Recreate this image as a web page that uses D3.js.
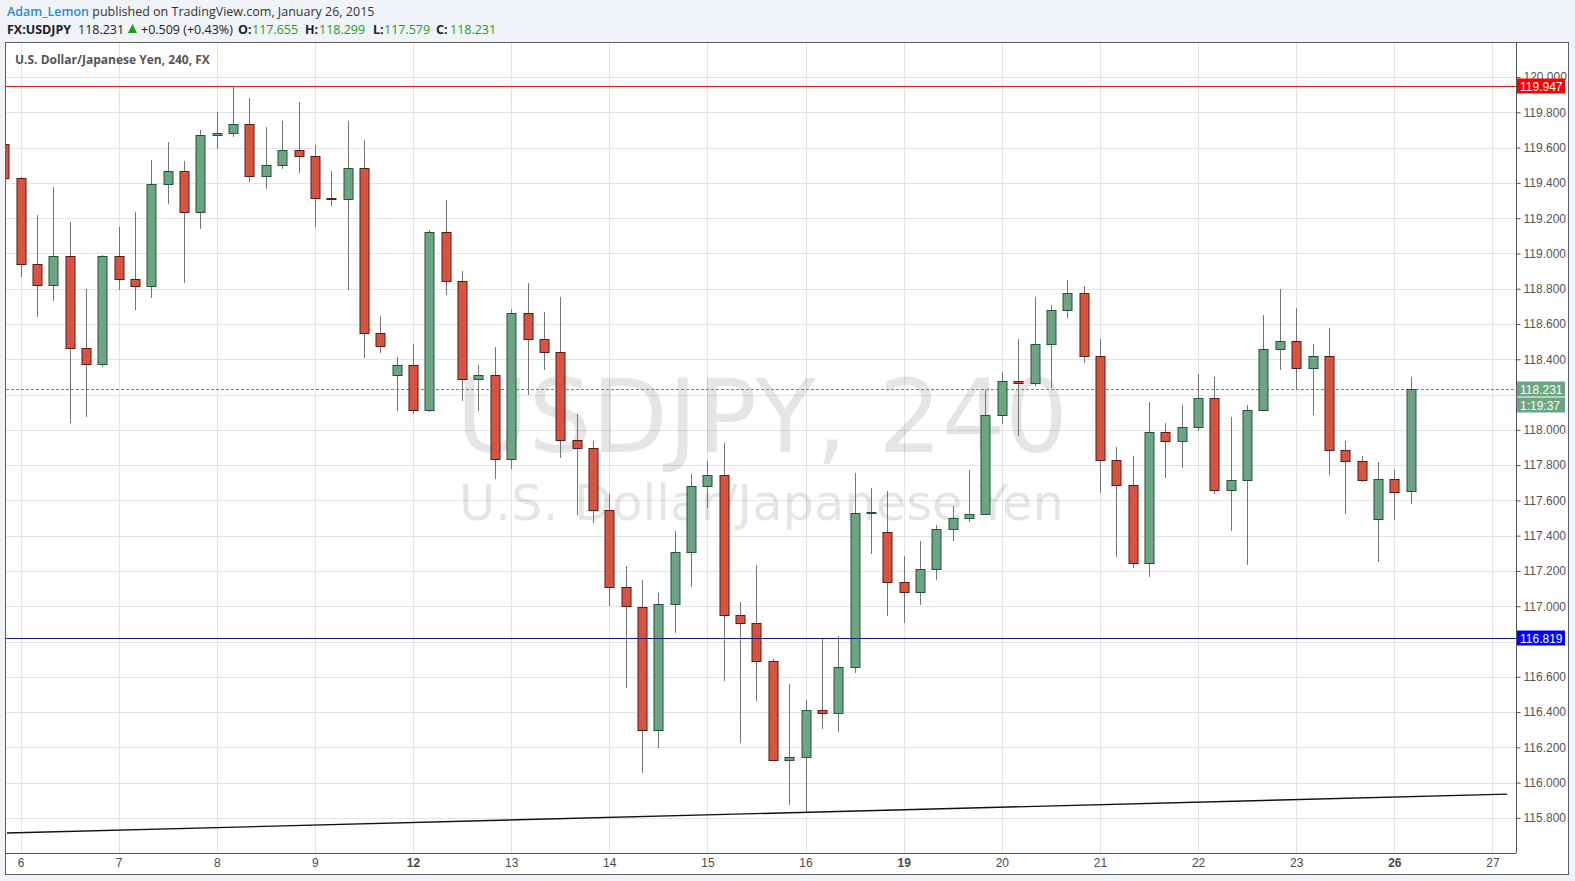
<!DOCTYPE html>
<html><head><meta charset="utf-8">
<script src="https://cdn.jsdelivr.net/npm/d3@7"></script>
<style>
html,body{margin:0;padding:0;background:#f0f3f7;}
svg{display:block;}
</style></head><body>
<script>
// ---------- data (4h bars, first bar index = -1) ----------
const firstBar = -1;
const opens = [119.620,119.425,118.942,118.820,118.984,118.463,118.373,118.984,118.854,118.814,119.391,119.470,119.233,119.674,119.685,119.736,119.437,119.504,119.589,119.555,119.312,119.307,119.487,118.548,118.311,118.368,118.113,119.121,118.842,118.289,118.311,117.834,118.662,118.515,118.442,117.943,117.898,117.547,117.109,116.996,116.301,117.015,117.309,117.683,117.745,116.952,116.907,116.692,116.131,116.146,116.414,116.395,116.658,117.530,117.422,117.139,117.083,117.213,117.439,117.502,117.524,118.085,118.277,118.266,118.487,118.679,118.776,118.419,117.830,117.688,117.247,117.988,117.938,118.017,118.181,117.660,117.717,118.113,118.458,118.504,118.351,118.419,117.887,117.824,117.496,117.722,117.655];
const highs = [119.630,119.435,119.218,119.376,119.178,118.799,118.991,119.150,119.235,119.529,119.631,119.523,119.699,119.800,119.946,119.880,119.716,119.750,119.857,119.614,119.470,119.750,119.642,118.646,118.415,118.489,119.132,119.304,118.902,118.370,118.472,118.685,118.834,118.670,118.755,118.087,117.939,117.634,117.229,117.150,117.077,117.424,117.747,117.821,117.926,117.022,117.232,116.703,116.558,116.467,116.816,116.830,117.754,117.668,117.651,117.283,117.368,117.458,117.571,117.770,118.228,118.330,118.517,118.755,118.710,118.851,118.817,118.517,117.900,117.854,118.160,118.036,118.143,118.317,118.302,118.075,118.141,118.653,118.800,118.693,118.489,118.579,117.934,117.849,117.815,117.775,118.299];
const lows = [119.410,118.869,118.637,118.733,118.037,118.071,118.354,118.790,118.682,118.750,119.282,118.835,119.140,119.593,119.661,119.406,119.367,119.480,119.457,119.152,119.271,118.790,118.405,118.433,118.109,118.090,118.100,118.762,118.166,118.109,117.720,117.777,118.200,118.338,117.839,117.520,117.471,117.000,116.535,116.056,116.197,116.848,117.109,117.556,116.577,116.226,116.463,116.128,115.873,115.829,116.305,116.288,116.622,117.296,116.945,116.905,117.007,117.149,117.369,117.477,117.520,118.032,117.964,118.247,118.236,118.632,118.377,117.641,117.279,117.216,117.166,117.726,117.783,117.992,117.636,117.426,117.233,118.105,118.338,118.226,118.083,117.743,117.522,117.703,117.250,117.488,117.579];
const closes = [119.425,118.942,118.820,118.984,118.463,118.373,118.984,118.854,118.814,119.391,119.470,119.233,119.674,119.685,119.736,119.437,119.504,119.589,119.555,119.312,119.307,119.487,118.548,118.475,118.368,118.113,119.121,118.842,118.289,118.311,117.834,118.662,118.515,118.442,117.943,117.898,117.547,117.109,117.000,116.301,117.015,117.309,117.683,117.745,116.952,116.907,116.692,116.131,116.146,116.414,116.395,116.658,117.530,117.533,117.139,117.083,117.213,117.439,117.502,117.524,118.085,118.277,118.266,118.487,118.679,118.776,118.419,117.830,117.688,117.247,117.988,117.938,118.017,118.181,117.660,117.717,118.113,118.458,118.504,118.351,118.419,117.887,117.824,117.717,117.722,117.649,118.231];
const dayLabels = ["6","7","8","9","12","13","14","15","16","19","20","21","22","23","26","27"];
const weekStartDays = ["12","19","26"];
const barsPerDay = 6;
const priceTickLabels = ["115.800","116.000","116.200","116.400","116.600","116.800","117.000","117.200","117.400","117.600","117.800","118.000","118.200","118.400","118.600","118.800","119.000","119.200","119.400","119.600","119.800","120.000"];
const resistancePrice = 119.947;
const supportPrice = 116.819;
const lastPrice = 118.231;
const changeText = "+0.509 (+0.43%)";
const countdownText = "1:19:37";
const trendBars = [-0.83, 90.9];
const trendPrices = [115.714, 115.935];

// ---------- layout ----------
const W = 1575, H = 881;
const L = 6, R = 1516, T = 43, B = 853;
const svg = d3.select("body").append("svg").attr("width", W).attr("height", H);

const x = d3.scaleLinear().domain([-0.8866, 91.44]).range([L, R]);
const y = d3.scaleLinear().domain([115.601, 120.193]).range([B, T]);

// header line 1
const hdr = svg.append("text").attr("x", 7).attr("y", 16)
  .style("font-family", "'Open Sans'").style("font-size", "12.5px");
hdr.append("tspan").attr("fill", "#2a8cd2").attr("font-weight", 600).text("Adam_Lemon");
hdr.append("tspan").attr("fill", "#333").text(" published on TradingView.com, January 26, 2015");

// header line 2 (segments placed like the reference)
const last = opens.length - 1;
const seg = [
  { x: 7, t: "FX:USDJPY", w: 700, c: "#222" },
  { x: 78, t: lastPrice.toFixed(3), w: 400, c: "#222" },
  { x: 141, t: changeText, w: 400, c: "#222" },
  { x: 238, t: "O:", w: 700, c: "#222" },
  { x: 252, t: opens[last].toFixed(3), w: 400, c: "#1b9e1b" },
  { x: 305, t: "H:", w: 700, c: "#222" },
  { x: 319, t: highs[last].toFixed(3), w: 400, c: "#1b9e1b" },
  { x: 373, t: "L:", w: 700, c: "#222" },
  { x: 384, t: lows[last].toFixed(3), w: 400, c: "#1b9e1b" },
  { x: 436, t: "C:", w: 700, c: "#222" },
  { x: 450, t: closes[last].toFixed(3), w: 400, c: "#1b9e1b" }
];
svg.selectAll("text.h2").data(seg).enter().append("text")
  .attr("x", d => d.x).attr("y", 34).attr("fill", d => d.c).attr("font-weight", d => d.w)
  .style("font-family", "'Open Sans'").style("font-size", "12.5px").text(d => d.t);
svg.append("path").attr("d", "M128,33L137,33L132.5,24Z").attr("fill", "#1b9e1b");

// chart frame
svg.append("rect").attr("x", 5.5).attr("y", 42.5).attr("width", 1563).attr("height", 832)
  .attr("fill", "#fff").attr("stroke", "#5d5d5d");

svg.append("defs").append("clipPath").attr("id", "plotclip")
  .append("rect").attr("x", L).attr("y", T).attr("width", R - L).attr("height", B - T);

const plot = svg.append("g").attr("clip-path", "url(#plotclip)");

// gridlines
const dayBars = dayLabels.map((d, k) => k * barsPerDay);
plot.selectAll("line.vg").data(dayBars).enter().append("line")
  .attr("x1", d => Math.round(x(d)) + 0.5).attr("x2", d => Math.round(x(d)) + 0.5)
  .attr("y1", T).attr("y2", B).attr("stroke", "#e4e4e4");
const priceTicks = priceTickLabels.map(Number);
plot.selectAll("line.hg").data(priceTicks).enter().append("line")
  .attr("x1", L).attr("x2", R)
  .attr("y1", d => Math.round(y(d)) + 0.5).attr("y2", d => Math.round(y(d)) + 0.5)
  .attr("stroke", "#e4e4e4");

// watermark
plot.append("text").attr("x", 456).attr("y", 452)
  .attr("textLength", 612).attr("lengthAdjust", "spacingAndGlyphs")
  .style("font-family", "'DejaVu Sans'").style("font-size", "101px")
  .attr("fill", "rgba(0,0,0,0.1)").text("USDJPY, 240");
plot.append("text").attr("x", 459).attr("y", 520)
  .attr("textLength", 605).attr("lengthAdjust", "spacingAndGlyphs")
  .style("font-family", "'DejaVu Sans'").style("font-size", "50px")
  .attr("fill", "rgba(0,0,0,0.1)").text("U.S. Dollar/Japanese Yen");

// last price dotted line
plot.append("line").attr("x1", L).attr("x2", R)
  .attr("y1", Math.round(y(lastPrice)) + 0.5).attr("y2", Math.round(y(lastPrice)) + 0.5)
  .attr("stroke", "#3fa363").attr("stroke-dasharray", "3,2");

// candles
const bars = opens.map((o, k) => ({ i: firstBar + k, o, h: highs[k], l: lows[k], c: closes[k] }));
const cg = plot.selectAll("g.bar").data(bars).enter().append("g");
cg.append("line")
  .attr("x1", d => Math.round(x(d.i)) + 0.5).attr("x2", d => Math.round(x(d.i)) + 0.5)
  .attr("y1", d => Math.round(y(d.h))).attr("y2", d => Math.round(y(d.l)))
  .attr("stroke", "#737375");
cg.append("rect")
  .attr("x", d => Math.round(x(d.i)) - 4)
  .attr("width", 9)
  .attr("y", d => Math.round(y(Math.max(d.o, d.c))) + 0.5)
  .attr("height", d => Math.max(0, Math.round(y(Math.min(d.o, d.c))) - Math.round(y(Math.max(d.o, d.c)))))
  .attr("fill", d => d.c >= d.o ? "#6ba583" : "#d75442")
  .attr("stroke", d => d.c >= d.o ? "#225437" : "#5b1a13");

// horizontal levels
plot.append("line").attr("x1", L).attr("x2", R)
  .attr("y1", Math.round(y(resistancePrice)) + 0.5).attr("y2", Math.round(y(resistancePrice)) + 0.5)
  .attr("stroke", "#e02020");
plot.append("line").attr("x1", L).attr("x2", R)
  .attr("y1", Math.round(y(supportPrice)) + 0.5).attr("y2", Math.round(y(supportPrice)) + 0.5)
  .attr("stroke", "#1a1a90");

// trend line
plot.append("line")
  .attr("x1", x(trendBars[0])).attr("y1", y(trendPrices[0]))
  .attr("x2", x(trendBars[1])).attr("y2", y(trendPrices[1]))
  .attr("stroke", "#111").attr("stroke-width", 1.4);

// price axis (labels hidden where a price tag covers them, as in the reference)
const tagPrices = [supportPrice, lastPrice];
const yAxis = d3.axisRight(y).tickValues(priceTicks).tickFormat(d3.format(".3f")).tickSize(4).tickPadding(3);
const ya = svg.append("g").attr("transform", `translate(${R + 0.5},0)`).call(yAxis);
ya.select(".domain").attr("d", `M0,${T}V${B}`).attr("stroke", "#555");
ya.selectAll(".tick line").attr("stroke", "#555");
ya.selectAll(".tick text").attr("fill", "#555")
  .style("font-family", "'Liberation Sans', Arial").style("font-size", "12px");
ya.selectAll(".tick").filter(d => tagPrices.some(p => Math.abs(y(d) - y(p)) < 12)).remove();

// time axis
const xAxis = d3.axisBottom(x).tickValues(dayBars)
  .tickFormat((d, k) => dayLabels[k]).tickSize(0).tickPadding(5);
const xa = svg.append("g").attr("transform", `translate(0,${B + 0.5})`).call(xAxis);
xa.select(".domain").attr("d", `M${L},0H${R}`).attr("stroke", "#555");
xa.selectAll(".tick text").attr("fill", "#4a4a4a")
  .style("font-family", "'Liberation Sans', Arial").style("font-size", "12px")
  .attr("font-weight", (d, k) => weekStartDays.includes(dayLabels[k]) ? 700 : 400);

// price labels on axis
function priceTag(val, txt, fill, dy) {
  const cy = Math.round(y(val)) + dy;
  svg.append("rect").attr("x", R + 1).attr("y", cy - 7.5).attr("width", 48).attr("height", 15).attr("fill", fill);
  svg.append("text").attr("x", R + 4).attr("y", cy + 4.5).attr("fill", "#fff")
    .style("font-family", "'Liberation Sans', Arial").style("font-size", "12px").text(txt);
}
priceTag(resistancePrice, resistancePrice.toFixed(3), "#ff0000", 0);
priceTag(supportPrice, supportPrice.toFixed(3), "#0000ff", 0);
priceTag(lastPrice, lastPrice.toFixed(3), "#6ba583", 0);
priceTag(lastPrice, countdownText, "#6ba583", 16);

// legend
svg.append("text").attr("x", 15).attr("y", 64).attr("fill", "#555")
  .style("font-family", "'Open Sans'").style("font-size", "12px").attr("font-weight", 700)
  .text("U.S. Dollar/Japanese Yen, 240, FX");
</script>
</body></html>
